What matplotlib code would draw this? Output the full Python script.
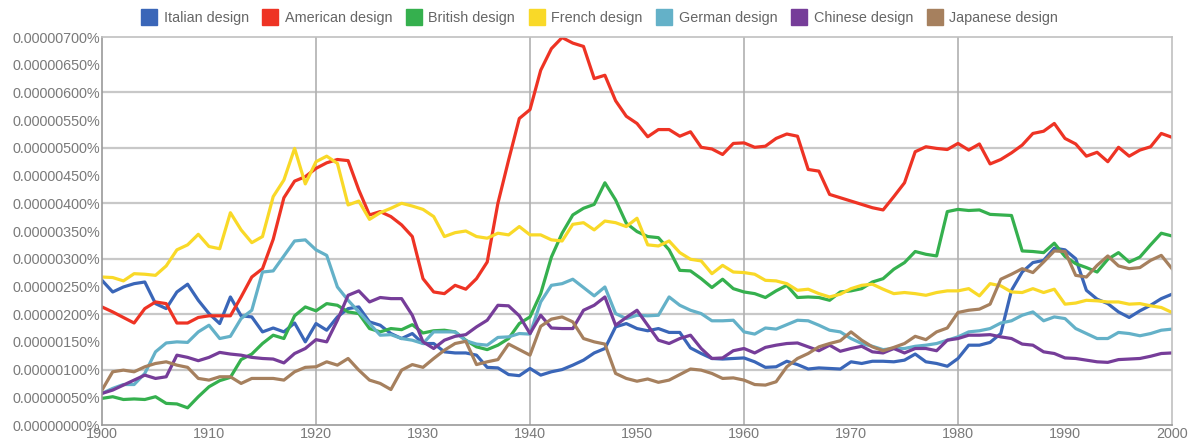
import matplotlib
matplotlib.use('Agg')
import matplotlib.pyplot as plt
from matplotlib.lines import Line2D
from matplotlib.ticker import FuncFormatter

plt.rcParams['font.family'] = ['Liberation Sans', 'DejaVu Sans']

# values in units of 0.000001 %
years = list(range(1900, 2001))

italian = [2.61, 2.40, 2.49, 2.55, 2.58, 2.19, 2.10, 2.40, 2.54, 2.25,
           2.01, 1.83, 2.31, 1.97, 1.95, 1.68, 1.75, 1.68, 1.84, 1.50,
           1.83, 1.71, 1.95, 2.10, 2.13, 1.86, 1.80, 1.65, 1.56, 1.65,
           1.47, 1.47, 1.32, 1.30, 1.30, 1.26, 1.04, 1.03, 0.91, 0.89,
           1.02, 0.90, 0.96, 1.00, 1.08, 1.17, 1.30, 1.38, 1.77, 1.83,
           1.74, 1.70, 1.74, 1.67, 1.67, 1.39, 1.29, 1.20, 1.19, 1.20,
           1.21, 1.14, 1.04, 1.05, 1.15, 1.09, 1.01, 1.03, 1.02, 1.01,
           1.14, 1.11, 1.15, 1.15, 1.14, 1.17, 1.28, 1.14, 1.11, 1.06,
           1.20, 1.44, 1.44, 1.49, 1.65, 2.43, 2.76, 2.93, 2.97, 3.19,
           3.16, 3.00, 2.43, 2.27, 2.19, 2.04, 1.94, 2.06, 2.16, 2.28,
           2.36]
american = [2.13, 2.04, 1.94, 1.84, 2.10, 2.22, 2.19, 1.84, 1.84, 1.94,
            1.97, 1.97, 1.97, 2.31, 2.67, 2.82, 3.35, 4.10, 4.40, 4.48,
            4.63, 4.73, 4.79, 4.77, 4.24, 3.79, 3.85, 3.76, 3.61, 3.40,
            2.64, 2.40, 2.37, 2.52, 2.45, 2.64, 2.94, 4.00, 4.78, 5.53,
            5.69, 6.40, 6.79, 6.99, 6.89, 6.83, 6.25, 6.31, 5.85, 5.57,
            5.44, 5.20, 5.33, 5.33, 5.21, 5.29, 5.01, 4.98, 4.88, 5.08,
            5.09, 5.01, 5.03, 5.17, 5.25, 5.21, 4.61, 4.58, 4.16, 4.10,
            4.04, 3.98, 3.92, 3.88, 4.12, 4.37, 4.93, 5.02, 4.99, 4.97,
            5.08, 4.96, 5.07, 4.71, 4.79, 4.91, 5.05, 5.26, 5.30, 5.44,
            5.17, 5.07, 4.85, 4.92, 4.75, 5.01, 4.85, 4.96, 5.02, 5.26,
            5.19]
british = [0.48, 0.51, 0.46, 0.47, 0.46, 0.51, 0.39, 0.38, 0.31, 0.51,
           0.69, 0.80, 0.86, 1.18, 1.28, 1.47, 1.62, 1.56, 1.97, 2.13,
           2.06, 2.19, 2.16, 2.04, 2.01, 1.74, 1.68, 1.74, 1.72, 1.81,
           1.66, 1.70, 1.71, 1.68, 1.53, 1.41, 1.36, 1.44, 1.56, 1.83,
           1.95, 2.37, 3.03, 3.46, 3.79, 3.91, 3.98, 4.37, 4.06, 3.64,
           3.49, 3.40, 3.38, 3.16, 2.79, 2.78, 2.64, 2.48, 2.63, 2.46,
           2.40, 2.37, 2.30, 2.42, 2.52, 2.30, 2.31, 2.30, 2.25, 2.40,
           2.42, 2.46, 2.58, 2.64, 2.81, 2.93, 3.13, 3.08, 3.05, 3.85,
           3.89, 3.87, 3.88, 3.80, 3.79, 3.78, 3.14, 3.13, 3.11, 3.28,
           3.04, 2.91, 2.84, 2.76, 2.99, 3.11, 2.94, 3.03, 3.25, 3.46,
           3.41]
french = [2.67, 2.66, 2.60, 2.73, 2.72, 2.70, 2.87, 3.16, 3.25, 3.44,
          3.22, 3.18, 3.83, 3.52, 3.29, 3.40, 4.12, 4.42, 4.99, 4.35,
          4.75, 4.85, 4.72, 3.97, 4.04, 3.71, 3.83, 3.91, 4.00, 3.95,
          3.89, 3.76, 3.40, 3.47, 3.50, 3.40, 3.37, 3.46, 3.43, 3.58,
          3.43, 3.43, 3.34, 3.32, 3.62, 3.65, 3.52, 3.68, 3.65, 3.58,
          3.73, 3.25, 3.23, 3.32, 3.11, 2.99, 2.96, 2.73, 2.88, 2.76,
          2.75, 2.72, 2.61, 2.60, 2.55, 2.43, 2.45, 2.37, 2.31, 2.36,
          2.46, 2.52, 2.54, 2.45, 2.37, 2.39, 2.37, 2.34, 2.39, 2.42,
          2.42, 2.46, 2.33, 2.55, 2.51, 2.40, 2.39, 2.46, 2.39, 2.45,
          2.18, 2.20, 2.25, 2.24, 2.22, 2.22, 2.18, 2.19, 2.15, 2.12,
          2.03]
german = [0.57, 0.66, 0.73, 0.73, 0.93, 1.32, 1.48, 1.50, 1.49, 1.68,
          1.80, 1.56, 1.60, 1.92, 2.07, 2.76, 2.78, 3.05, 3.32, 3.34,
          3.16, 3.06, 2.49, 2.25, 2.04, 1.83, 1.62, 1.63, 1.56, 1.53,
          1.47, 1.68, 1.68, 1.68, 1.52, 1.46, 1.44, 1.58, 1.59, 1.65,
          1.64, 2.22, 2.52, 2.55, 2.63, 2.48, 2.33, 2.49, 2.01, 1.92,
          1.98, 1.97, 1.98, 2.31, 2.16, 2.07, 2.01, 1.88, 1.88, 1.89,
          1.68, 1.64, 1.75, 1.73, 1.81, 1.89, 1.88, 1.80, 1.71, 1.68,
          1.56, 1.47, 1.42, 1.36, 1.38, 1.38, 1.42, 1.44, 1.47, 1.53,
          1.59, 1.68, 1.70, 1.74, 1.84, 1.88, 1.98, 2.04, 1.88, 1.95,
          1.92, 1.74, 1.65, 1.56, 1.56, 1.67, 1.65, 1.61, 1.65, 1.71,
          1.73]
chinese = [0.57, 0.63, 0.72, 0.81, 0.90, 0.84, 0.87, 1.26, 1.22, 1.16,
           1.22, 1.31, 1.28, 1.26, 1.22, 1.20, 1.19, 1.12, 1.29, 1.38,
           1.54, 1.50, 1.89, 2.34, 2.42, 2.22, 2.30, 2.28, 2.28, 1.98,
           1.50, 1.38, 1.53, 1.60, 1.63, 1.77, 1.89, 2.16, 2.15, 1.97,
           1.65, 1.98, 1.75, 1.74, 1.74, 2.07, 2.16, 2.31, 1.80, 1.94,
           2.07, 1.80, 1.53, 1.47, 1.56, 1.62, 1.38, 1.20, 1.21, 1.34,
           1.38, 1.30, 1.40, 1.44, 1.47, 1.48, 1.41, 1.34, 1.44, 1.33,
           1.38, 1.42, 1.32, 1.30, 1.38, 1.30, 1.38, 1.38, 1.34, 1.53,
           1.56, 1.62, 1.62, 1.63, 1.59, 1.56, 1.46, 1.44, 1.32, 1.29,
           1.21, 1.20, 1.17, 1.14, 1.13, 1.18, 1.19, 1.20, 1.24, 1.29,
           1.30]
japanese = [0.63, 0.96, 0.99, 0.96, 1.05, 1.11, 1.14, 1.08, 1.04, 0.84,
            0.81, 0.87, 0.87, 0.75, 0.84, 0.84, 0.84, 0.81, 0.96, 1.04,
            1.05, 1.14, 1.08, 1.20, 0.99, 0.81, 0.75, 0.64, 0.99, 1.09,
            1.04, 1.20, 1.35, 1.47, 1.51, 1.09, 1.14, 1.18, 1.46, 1.36,
            1.26, 1.78, 1.91, 1.95, 1.86, 1.56, 1.50, 1.46, 0.93, 0.84,
            0.79, 0.83, 0.77, 0.81, 0.91, 1.01, 0.99, 0.93, 0.84, 0.85,
            0.81, 0.73, 0.72, 0.78, 1.05, 1.20, 1.29, 1.41, 1.47, 1.52,
            1.68, 1.53, 1.41, 1.34, 1.40, 1.47, 1.60, 1.54, 1.68, 1.75,
            2.03, 2.07, 2.09, 2.18, 2.63, 2.72, 2.82, 2.75, 2.94, 3.14,
            3.13, 2.70, 2.67, 2.88, 3.05, 2.87, 2.82, 2.84, 2.97, 3.06,
            2.82]

names = ['Italian design', 'American design', 'British design', 'French design',
         'German design', 'Chinese design', 'Japanese design']
colors = ['#3a66b8', '#ee3324', '#35b04e', '#f9d928', '#64b1c8', '#763d99', '#a6805e']
series = [italian, american, british, french, german, chinese, japanese]

fig = plt.figure(figsize=(11.88, 4.4), dpi=100)
ax = fig.add_axes([102 / 1188, 1 - 425 / 440, 1070 / 1188, 388 / 440])

# grid
for v in range(1, 7):
    ax.axhline(v, color='#c8c8c8', lw=1.6, zorder=0)
for yr in (1920, 1940, 1960, 1980):
    ax.axvline(yr, color='#b0b0b0', lw=1.2, zorder=0)

for name, col, vals in zip(names, colors, series):
    ax.plot(years, vals, color=col, lw=2.3, label=name, solid_joinstyle='round')

ax.set_xlim(1900, 2000)
ax.set_ylim(0, 7)
ax.set_xticks(range(1900, 2001, 10))
ax.set_yticks([i * 0.5 for i in range(15)])
ax.yaxis.set_major_formatter(FuncFormatter(lambda v, p: f"{v * 1e-6:.8f}%"))
ax.tick_params(length=0, labelsize=10.4, labelcolor='#7a7a7a')
ax.tick_params(axis='y', pad=1.5)
ax.tick_params(axis='x', pad=1.5)

for s in ('top', 'right'):
    ax.spines[s].set_color('#c0c0c0')
    ax.spines[s].set_linewidth(1.2)
for s in ('left', 'bottom'):
    ax.spines[s].set_color('#999999')
    ax.spines[s].set_linewidth(1.2)

handles = [Line2D([], [], marker='s', linestyle='none', markersize=11,
                  markerfacecolor=c, markeredgecolor=c) for c in colors]
fig.legend(handles, names, loc='center', bbox_to_anchor=(0.505, 1 - 18 / 440),
           ncol=7, frameon=False, fontsize=10.4, labelcolor='#666666',
           handlelength=1.0, handletextpad=0.5, columnspacing=1.0)

plt.savefig('out.png', dpi=100)
